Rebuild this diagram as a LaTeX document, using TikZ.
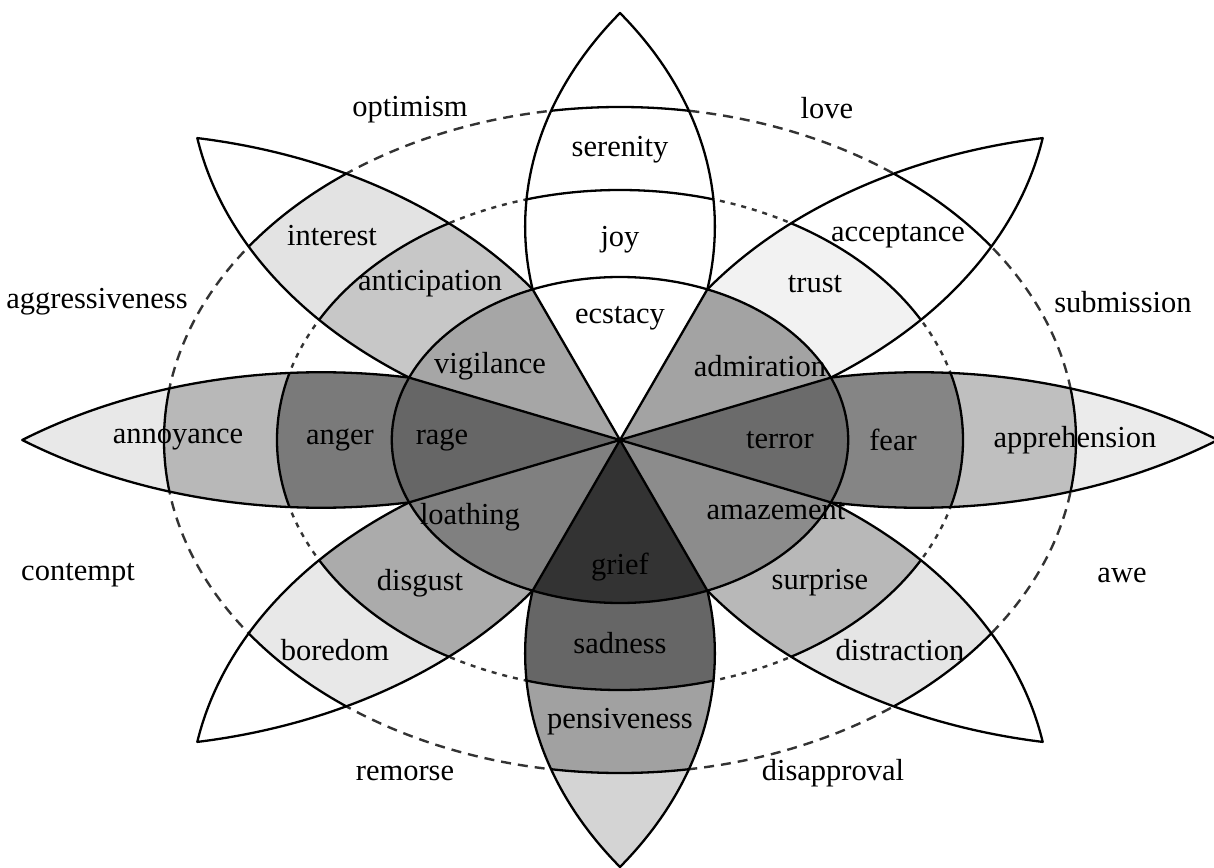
\documentclass[tikz,border=0pt]{standalone}
\usepackage{fontspec}
\setmainfont{Liberation Serif}
\def\lenspath{(0,0) arc[start angle=125.22,end angle=54.78,radius=370.2] arc[start angle=-54.78,end angle=-125.22,radius=370.2] -- cycle}
\begin{document}
\begin{tikzpicture}[x=1pt,y=1pt,line join=round,
  lbl/.style={font=\fontsize{30.5}{36}\selectfont, inner sep=0pt},
  edge/.style={line width=2.3pt, draw=black},
  outerdash/.style={line width=2.4pt, dash pattern=on 10pt off 7pt, black!80},
  middash/.style={line width=2.4pt, dash pattern=on 5pt off 6pt, black!80}]
\useasboundingbox (-620,-427) rectangle (594,440);
\fill[white] (-620,-427) rectangle (594,440);
% dashed ellipses
\draw[outerdash] (0,0) ellipse [x radius=456, y radius=333];
\draw[middash] (0,0) ellipse [x radius=343, y radius=250];
% petal fills
\foreach \ang/\ct/\co/\cm in {90/white/white/white, 45/white/white/black!5, 0/black!8/black!25/black!48, -45/white/black!10/black!28, -90/black!17/black!37/black!60, -135/white/black!9/black!33, 180/black!9/black!28/black!52, 135/white/black!11/black!22}
{
 \begin{scope}[xscale=1.4, rotate=\ang]
   \clip \lenspath;
   \fill[fill=\ct] \lenspath;
   \begin{scope}[reset cm]
     \fill[fill=\co] (0,0) ellipse [x radius=456, y radius=333];
     \fill[fill=\cm] (0,0) ellipse [x radius=343, y radius=250];
     \draw[edge] (0,0) ellipse [x radius=456, y radius=333];
     \draw[edge] (0,0) ellipse [x radius=343, y radius=250];
   \end{scope}
 \end{scope}
}
% petal outlines
\foreach \ang in {90,45,0,-45,-90,-135,180,135}
{ \draw[edge, xscale=1.4, rotate=\ang] \lenspath; }
% inner wedges
\foreach \ang/\ci in {90/white, 45/black!36, 0/black!58, -45/black!45, -90/black!80, -135/black!50, 180/black!60, 135/black!35}
{ \fill[fill=\ci, xscale=1.4] (0,0) -- ({\ang-22.5}:163) arc[start angle={\ang-22.5}, end angle={\ang+22.5}, radius=163] -- cycle; }
\foreach \ang in {22.5,67.5,...,337.5}
{ \draw[edge, xscale=1.4] (0,0) -- (\ang:163); }
\draw[edge] (0,0) ellipse [x radius=228.2, y radius=163];
% labels
\node[lbl] (serenity) at (0,290) {serenity};
\node[lbl] (joy) at (0,200) {joy};
\node[lbl] (ecstacy) at (0,122) {ecstacy};
\node[lbl] (acceptance) at (278,204) {acceptance};
\node[lbl] (trust) at (195,156) {trust};
\node[lbl] (admiration) at (140,74) {admiration};
\node[lbl] (terror) at (160,0) {terror};
\node[lbl] (fear) at (273,0) {fear};
\node[lbl] (apprehension) at (455,0) {apprehension};
\node[lbl] (amazement) at (156,-71) {amazement};
\node[lbl] (surprise) at (200,-143) {surprise};
\node[lbl] (distraction) at (280,-210) {distraction};
\node[lbl] (grief) at (0,-127) {grief};
\node[lbl] (sadness) at (0,-203) {sadness};
\node[lbl] (pensiveness) at (0,-282) {pensiveness};
\node[lbl] (loathing) at (-150,-77) {loathing};
\node[lbl] (disgust) at (-200,-143) {disgust};
\node[lbl] (boredom) at (-285,-210) {boredom};
\node[lbl] (rage) at (-178,0) {rage};
\node[lbl] (anger) at (-280,0) {anger};
\node[lbl] (annoyance) at (-442,0) {annoyance};
\node[lbl] (vigilance) at (-130,74) {vigilance};
\node[lbl] (anticipation) at (-190,156) {anticipation};
\node[lbl] (interest) at (-288,204) {interest};
\node[lbl] (optimism) at (-210,330) {optimism};
\node[lbl] (love) at (207,332) {love};
\node[lbl] (aggressiveness) at (-523,138) {aggressiveness};
\node[lbl] (submission) at (503,138) {submission};
\node[lbl] (contempt) at (-542,-135) {contempt};
\node[lbl] (awe) at (502,-135) {awe};
\node[lbl] (remorse) at (-215,-333) {remorse};
\node[lbl] (disapproval) at (213,-333) {disapproval};
\end{tikzpicture}
\end{document}
